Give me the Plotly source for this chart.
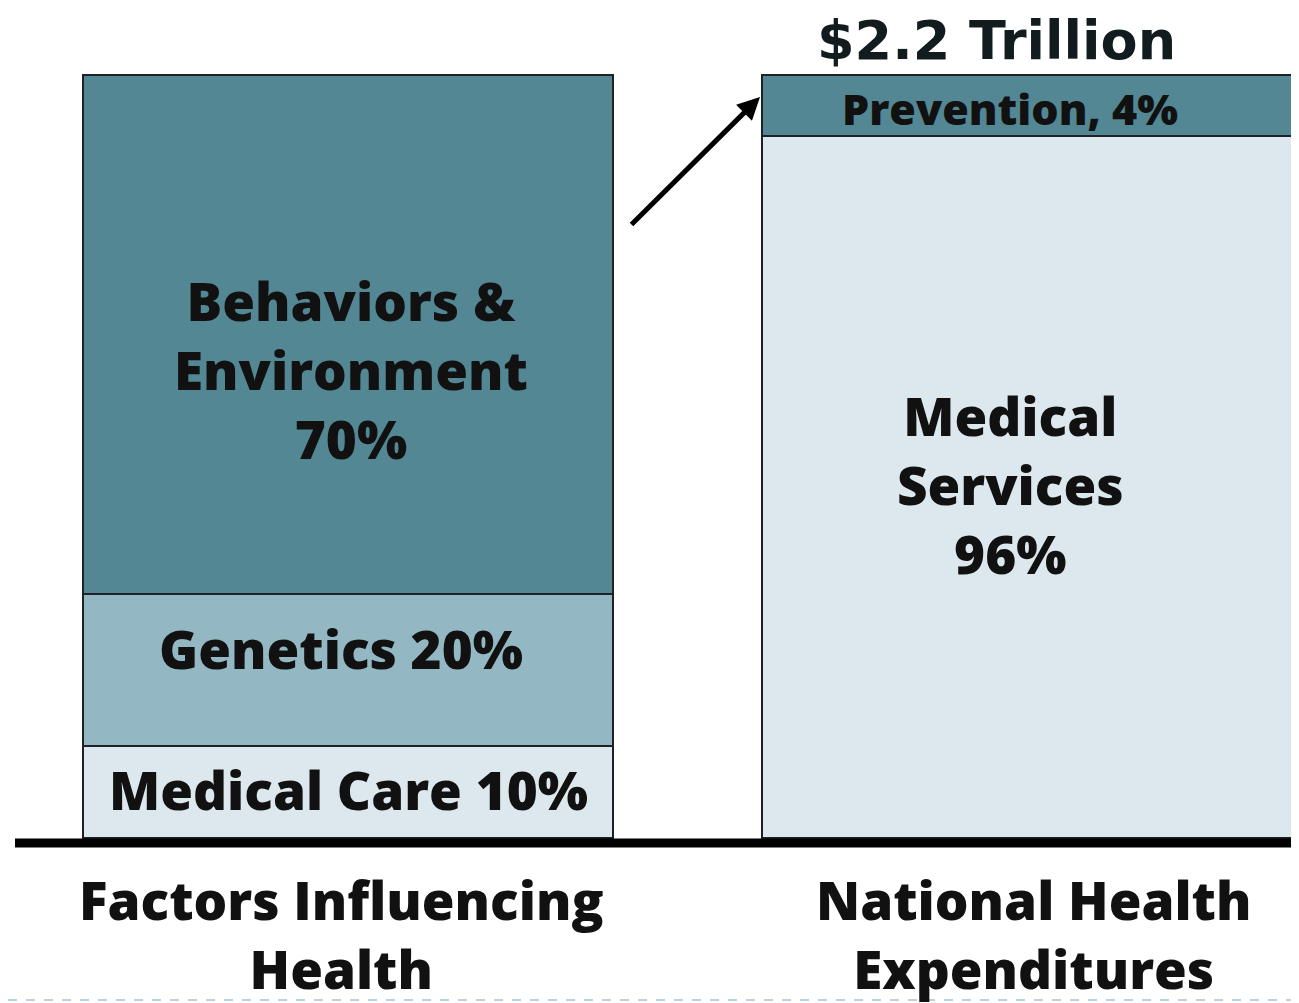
import plotly.graph_objects as go

# Data (segment heights as drawn, in % of bar)
categories = ["Factors Influencing<br>Health", "National Health<br>Expenditures"]
left_segments = ["Medical Care 10%", "Genetics 20%", "Behaviors &<br>Environment<br>70%"]
left_heights = [12, 20, 68]
right_segments = ["Medical<br>Services<br>96%", "Prevention, 4%"]
right_heights = [92, 8]
total_label = "$2.2 Trillion"

left_colors = ["#dde8ee", "#93b8c3", "#538794"]
right_colors = ["#dde8ee", "#538794"]

FONT = "Open Sans"
OFF = 8  # page body margin offset in px
PX_PER_X = 679.0
PX_PER_Y = 7.63
X0 = 348 - OFF   # pixel of first category center (figure coords)
Y0 = 838 - OFF   # pixel of y=0 (figure coords)

fig = go.Figure()

bar_w = 530 / PX_PER_X
for i, h in enumerate(left_heights):
    fig.add_trace(go.Bar(x=[0], y=[h], width=bar_w,
                         marker=dict(color=left_colors[i], line=dict(color="#1e2224", width=2)),
                         showlegend=False, hoverinfo="skip"))
for i, h in enumerate(right_heights):
    fig.add_trace(go.Bar(x=[1], y=[h], width=bar_w,
                         marker=dict(color=right_colors[i], line=dict(color="#1e2224", width=2)),
                         showlegend=False, hoverinfo="skip"))

lab_font = dict(family=FONT, size=53, color="#111111", weight=800)
left_label_y = [6.3, 24.8, 61.4]
left_label_dx = [0.0, -0.01, 0.005]
for txt, yy, dx in zip(left_segments, left_label_y, left_label_dx):
    fig.add_annotation(x=dx, y=yy, text=txt, showarrow=False, font=lab_font,
                       xanchor="center", yanchor="middle")
fig.add_annotation(x=1 - 0.025, y=46.3, text=right_segments[0], showarrow=False, font=lab_font,
                   xanchor="center", yanchor="middle")
fig.add_annotation(x=1 - 0.025, y=95.6, text=right_segments[1], showarrow=False,
                   font=dict(family=FONT, size=43, color="#111111", weight=800),
                   xanchor="center", yanchor="middle")

fig.add_annotation(x=1 - 0.045, y=1.0, yref="paper", text=total_label, showarrow=False,
                   yanchor="top", borderpad=0,
                   font=dict(family="DejaVu Sans", size=54, color="#121c1e", weight="bold"))

cat_dx = [-0.01, 0.01]
for i, c in enumerate(categories):
    fig.add_annotation(x=i + cat_dx[i], y=-3.0, text=c, showarrow=False, yanchor="top",
                       font=dict(family=FONT, size=53, color="#111111", weight=800))

# arrow
fig.add_annotation(x=(760 - OFF - X0) / PX_PER_X, y=(Y0 - (97 - OFF)) / PX_PER_Y, ax=-130, ay=129,
                   xref="x", yref="y", text="", showarrow=True,
                   arrowhead=2, arrowsize=0.9, arrowwidth=5, arrowcolor="#000000", standoff=0)

# baseline and dashed rule
fig.add_shape(type="line", xref="paper", yref="y", x0=(15 - OFF) / 1299, x1=1, y0=-0.65, y1=-0.65,
              line=dict(color="#000000", width=9))
fig.add_shape(type="line", xref="paper", yref="paper", x0=0, x1=1,
              y0=(1003 - (1000 - OFF)) / 1003, y1=(1003 - (1000 - OFF)) / 1003,
              line=dict(color="#a9c1d1", width=1.5, dash="dash"))

fig.update_layout(
    barmode="stack",
    width=1299, height=1003,
    margin=dict(l=0, r=0, t=0, b=0),
    paper_bgcolor="white", plot_bgcolor="white",
    xaxis=dict(range=[-X0 / PX_PER_X, (1299 - X0) / PX_PER_X], visible=False, fixedrange=True),
    yaxis=dict(range=[-(1003 - Y0) / PX_PER_Y, Y0 / PX_PER_Y], visible=False, fixedrange=True),
)

fig.write_html("out.html")
